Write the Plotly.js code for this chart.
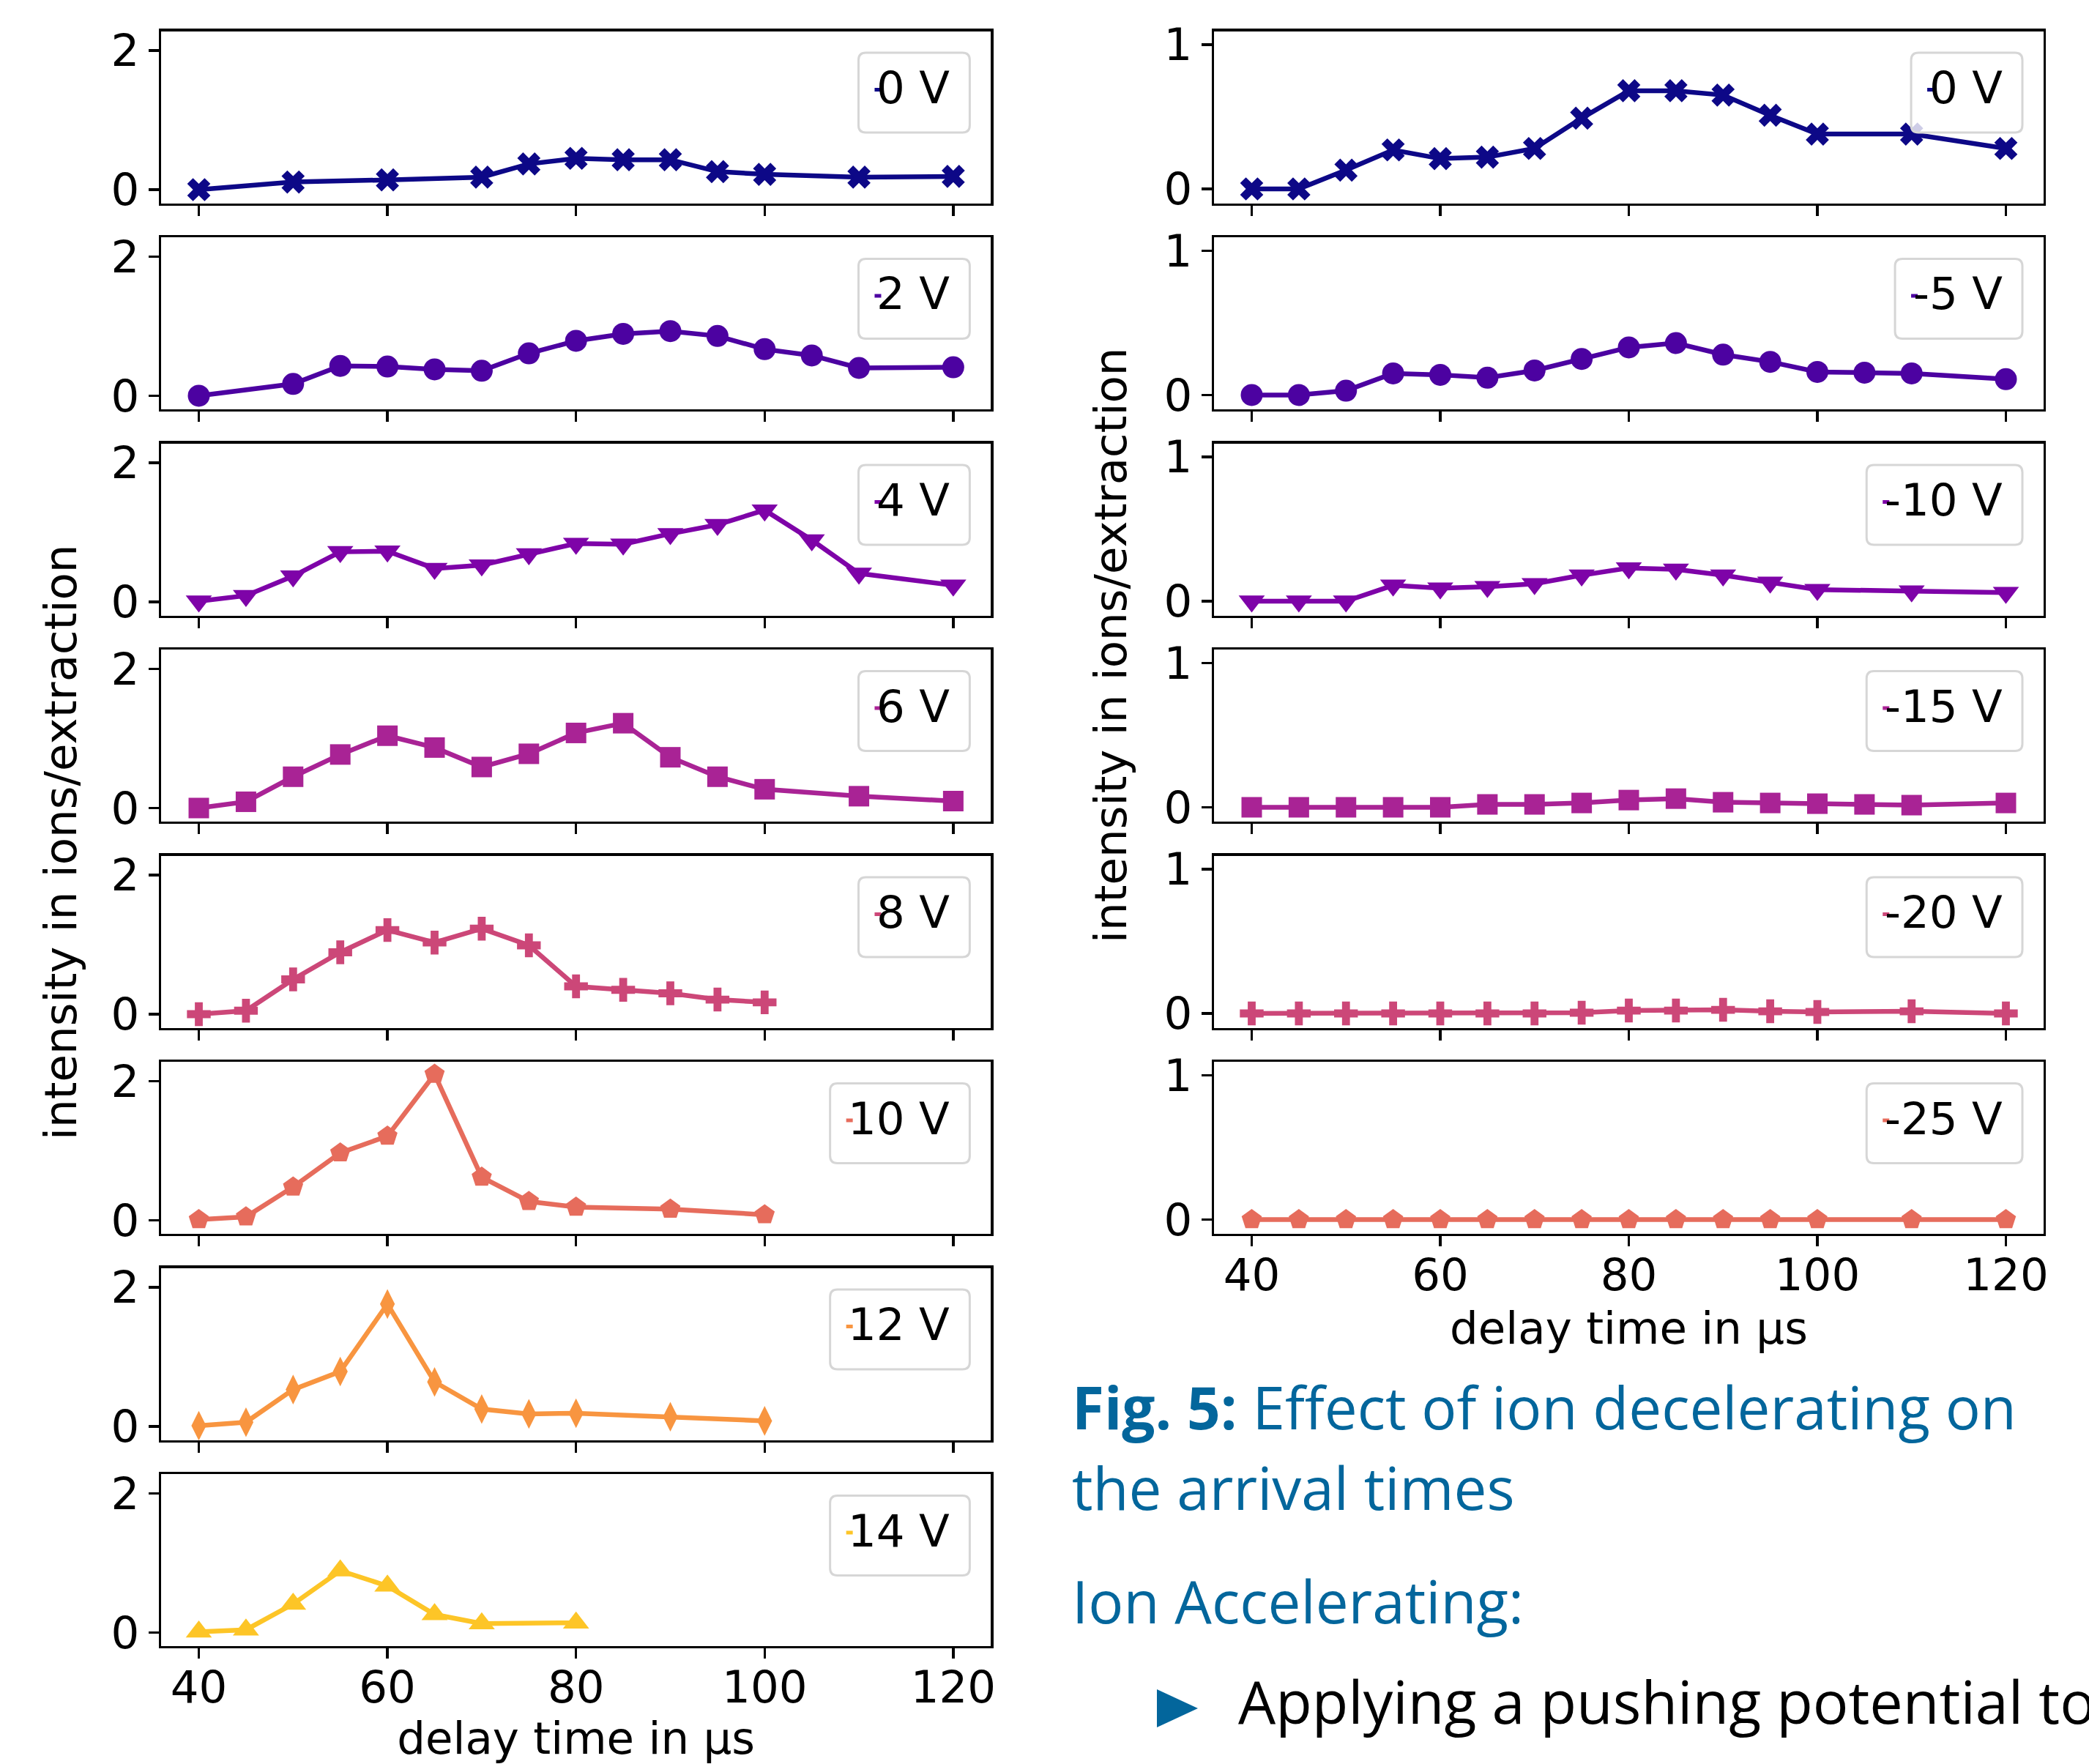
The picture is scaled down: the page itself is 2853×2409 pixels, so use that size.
<!DOCTYPE html>
<html>
<head>
<meta charset="utf-8">
<script src="https://cdn.plot.ly/plotly-3.0.1.min.js"></script>
<style>html,body{margin:0;padding:0;background:#fff;}</style>
</head>
<body>
<div id="chart" style="width:2853px;height:2409px;"></div>
<script>
// ---------------- DATA ----------------
// delay time in µs (x) and intensity in ions/extraction (y)
// Left column: ion accelerating potentials
const accLabels = ["0 V", "2 V", "4 V", "6 V", "8 V", "10 V", "12 V", "14 V"];
const accX0  = [40, 50, 60, 70, 75, 80, 85, 90, 95, 100, 110, 120];
const accY0  = [0, 0.11, 0.14, 0.18, 0.37, 0.45, 0.43, 0.43, 0.26, 0.22, 0.18, 0.19];
const accX2  = [40, 50, 55, 60, 65, 70, 75, 80, 85, 90, 95, 100, 105, 110, 120];
const accY2  = [0, 0.17, 0.43, 0.42, 0.38, 0.36, 0.61, 0.79, 0.89, 0.93, 0.86, 0.67, 0.58, 0.40, 0.41];
const accX4  = [40, 45, 50, 55, 60, 65, 70, 75, 80, 85, 90, 95, 100, 105, 110, 120];
const accY4  = [0.01, 0.09, 0.37, 0.72, 0.73, 0.48, 0.53, 0.69, 0.84, 0.83, 0.98, 1.11, 1.32, 0.89, 0.41, 0.24];
const accX6  = [40, 45, 50, 55, 60, 65, 70, 75, 80, 85, 90, 95, 100, 110, 120];
const accY6  = [0, 0.09, 0.45, 0.77, 1.04, 0.87, 0.59, 0.78, 1.08, 1.22, 0.73, 0.45, 0.27, 0.17, 0.10];
const accX8  = [40, 45, 50, 55, 60, 65, 70, 75, 80, 85, 90, 95, 100];
const accY8  = [0, 0.05, 0.50, 0.89, 1.21, 1.03, 1.23, 0.99, 0.40, 0.35, 0.30, 0.21, 0.17];
const accX10 = [40, 45, 50, 55, 60, 65, 70, 75, 80, 90, 100];
const accY10 = [0.01, 0.05, 0.48, 0.97, 1.21, 2.10, 0.62, 0.27, 0.19, 0.16, 0.08];
const accX12 = [40, 45, 50, 55, 60, 65, 70, 75, 80, 90, 100];
const accY12 = [0.01, 0.06, 0.53, 0.79, 1.76, 0.64, 0.25, 0.18, 0.19, 0.14, 0.08];
const accX14 = [40, 45, 50, 55, 60, 65, 70, 80];
const accY14 = [0.01, 0.04, 0.41, 0.89, 0.67, 0.26, 0.13, 0.14];

// Right column: ion decelerating potentials
const decLabels = ["0 V", "-5 V", "-10 V", "-15 V", "-20 V", "-25 V"];
const decX0   = [40, 45, 50, 55, 60, 65, 70, 75, 80, 85, 90, 95, 100, 110, 120];
const decY0   = [0, 0, 0.13, 0.27, 0.21, 0.22, 0.28, 0.49, 0.68, 0.68, 0.65, 0.51, 0.38, 0.38, 0.28];
const decX5   = [40, 45, 50, 55, 60, 65, 70, 75, 80, 85, 90, 95, 100, 105, 110, 120];
const decY5   = [0, 0, 0.03, 0.15, 0.14, 0.12, 0.17, 0.25, 0.33, 0.36, 0.28, 0.23, 0.16, 0.155, 0.15, 0.11];
const decX10  = [40, 45, 50, 55, 60, 65, 70, 75, 80, 85, 90, 95, 100, 110, 120];
const decY10  = [0, 0, 0, 0.11, 0.09, 0.10, 0.12, 0.18, 0.23, 0.22, 0.18, 0.13, 0.08, 0.07, 0.06];
const decX15  = [40, 45, 50, 55, 60, 65, 70, 75, 80, 85, 90, 95, 100, 105, 110, 120];
const decY15  = [0, 0, 0, 0, 0, 0.02, 0.02, 0.03, 0.05, 0.06, 0.035, 0.03, 0.025, 0.02, 0.015, 0.03];
const decX20  = [40, 45, 50, 55, 60, 65, 70, 75, 80, 85, 90, 95, 100, 110, 120];
const decY20  = [0, 0, 0, 0, 0, 0, 0, 0.005, 0.02, 0.02, 0.025, 0.015, 0.01, 0.015, 0];
const decX25  = [40, 45, 50, 55, 60, 65, 70, 75, 80, 85, 90, 95, 100, 110, 120];
const decY25  = [0, 0, 0, 0, 0, 0, 0, 0, 0, 0, 0, 0, 0, 0, 0];

const xTickVals = [40, 60, 80, 100, 120];
const accYTicks = [0, 2];
const decYTicks = [0, 1];

const xTitle = "delay time in µs";
const yTitle = "intensity in ions/extraction";
const captionBold = "Fig. 5:";
const captionRest1 = " Effect of ion decelerating on";
const captionLine2 = "the arrival times";
const sectionHead = "Ion Accelerating:";
const bulletText = "Applying a pushing potential to";

// ---------------- STYLE ----------------
const W_PX = 2853, H_PX = 2409;
const PX = v => v / W_PX, PY = v => 1 - v / H_PX;
const FONT = "DejaVu Sans";
const FS = 61;
const colors = ["#0d0887", "#4c02a1", "#7e03a8", "#a92395", "#cc4778", "#e66c5c", "#f89540", "#fdc527"];
const symbols = ["x", "circle", "triangle-down", "square", "cross", "pentagon", "diamond-tall", "triangle-up"];
const msizes = [28, 30, 31, 28, 27, 29, 29, 31];
const BLUE = "#03669c";

const accSeries = [[accX0, accY0], [accX2, accY2], [accX4, accY4], [accX6, accY6],
                   [accX8, accY8], [accX10, accY10], [accX12, accY12], [accX14, accY14]];
const decSeries = [[decX0, decY0], [decX5, decY5], [decX10, decY10],
                   [decX15, decY15], [decX20, decY20], [decX25, decY25]];

const charW = {"0":0.6362,"1":0.6362,"2":0.6362,"3":0.6362,"4":0.6362,"5":0.6362,"6":0.6362,"7":0.6362,"8":0.6362,"9":0.6362," ":0.3179,"V":0.6841,"-":0.3608};
function textWidth(s) { let w = 0; for (const c of s) w += (charW[c] || 0.6); return w * FS; }

const PANEL_TOP0 = 42.5, PANEL_STEP = 281.5, PANEL_H = 235;
const LEFT_X = [220, 1353.4], RIGHT_X = [1658, 2791];

const data = [];
const layout = {
  width: W_PX, height: H_PX,
  margin: {l: 0, r: 0, t: 0, b: 0, pad: 0},
  paper_bgcolor: "#ffffff", plot_bgcolor: "#ffffff",
  showlegend: false,
  font: {family: FONT, size: FS, color: "#000000"},
  shapes: [], annotations: []
};

function axisCommon() {
  return {
    showline: true, linecolor: "#000000", linewidth: 3.4, mirror: true,
    ticks: "outside", ticklen: 14, tickwidth: 3.4, tickcolor: "#000000",
    showgrid: false, zeroline: false, fixedrange: true,
    tickfont: {family: FONT, size: FS, color: "#000000"}
  };
}

function addPanel(k, row, xdom, series, label, colorIdx, yrange, yticks, isBottom) {
  const top = PANEL_TOP0 + PANEL_STEP * row;
  const xk = k === 1 ? "xaxis" : "xaxis" + k;
  const yk = k === 1 ? "yaxis" : "yaxis" + k;
  const xr = k === 1 ? "x" : "x" + k;
  const yr = k === 1 ? "y" : "y" + k;
  const xa = Object.assign(axisCommon(), {
    domain: [PX(xdom[0]), PX(xdom[1])], anchor: yr, range: [36, 124],
    tickmode: "array", tickvals: xTickVals, ticktext: xTickVals.map(String),
    showticklabels: isBottom, ticklabelstandoff: -14
  });
  if (isBottom) {
    xa.title = {text: xTitle, font: {family: FONT, size: FS, color: "#000000"}, standoff: 18};
  }
  const ya = Object.assign(axisCommon(), {
    domain: [PY(top + PANEL_H), PY(top)], anchor: xr, range: yrange,
    tickmode: "array", tickvals: yticks, ticktext: yticks.map(String)
  });
  layout[xk] = xa; layout[yk] = ya;

  data.push({
    type: "scatter", mode: "lines+markers", x: series[0], y: series[1],
    xaxis: xr, yaxis: yr, name: label, cliponaxis: false,
    line: {color: colors[colorIdx], width: 6.5},
    marker: {symbol: symbols[colorIdx], size: msizes[colorIdx], color: colors[colorIdx], line: {width: 0}}
  });

  // legend box (rounded) + tiny handle + label
  const dxr = xr + " domain", dyr = yr + " domain";
  const tw = textWidth(label);
  const bw = tw + 52;
  const x1 = -29, x0 = x1 - bw, yt = -29.5, yb = -138.5, r = 10;
  const path = `M${x0 + r},${yt} L${x1 - r},${yt} Q${x1},${yt} ${x1},${yt - r} L${x1},${yb + r} Q${x1},${yb} ${x1 - r},${yb} ` +
               `L${x0 + r},${yb} Q${x0},${yb} ${x0},${yb + r} L${x0},${yt - r} Q${x0},${yt} ${x0 + r},${yt} Z`;
  layout.shapes.push({type: "path", xref: dxr, yref: dyr, xsizemode: "pixel", ysizemode: "pixel",
    xanchor: 1, yanchor: 1, path: path, fillcolor: "rgba(255,255,255,0.8)",
    line: {color: "#d6d6d6", width: 3}, layer: "above"});
  const ts = x1 - 26 - tw;
  layout.shapes.push({type: "line", xref: dxr, yref: dyr, xsizemode: "pixel", ysizemode: "pixel",
    xanchor: 1, yanchor: 1, x0: ts - 4, x1: ts + 5, y0: -80, y1: -80,
    line: {color: colors[colorIdx], width: 5}, layer: "above"});
  layout.annotations.push({xref: dxr, yref: dyr, x: 1, y: 1, xanchor: "right", yanchor: "middle",
    xshift: x1 - 26, yshift: -77, borderpad: 0, showarrow: false, text: label,
    font: {family: FONT, size: FS, color: "#000000"}});
}

accSeries.forEach((s, i) => addPanel(i + 1, i, LEFT_X, s, accLabels[i], i, [-0.195, 2.28], accYTicks, i === accSeries.length - 1));
decSeries.forEach((s, i) => addPanel(9 + i, i, RIGHT_X, s, decLabels[i], i, [-0.099, 1.093], decYTicks, i === decSeries.length - 1));

// shared y-axis titles
layout.annotations.push({xref: "paper", yref: "paper", x: PX(82), y: PY(1151), xanchor: "center", yanchor: "middle",
  textangle: -90, showarrow: false, text: yTitle, font: {family: FONT, size: FS, color: "#000000"}});
layout.annotations.push({xref: "paper", yref: "paper", x: PX(1516), y: PY(881), xanchor: "center", yanchor: "middle",
  textangle: -90, showarrow: false, text: yTitle, font: {family: FONT, size: FS, color: "#000000"}});

// caption text (poster)
const CAP = "Open Sans";
function textLine(x, baseline, size, text, color) {
  layout.annotations.push({xref: "paper", yref: "paper", x: PX(x), y: PY(baseline + 0.293 * size), xanchor: "left", yanchor: "bottom",
    borderpad: 0, showarrow: false, text: text, font: {family: CAP, size: size, color: color}});
}
textLine(1463, 1953, 80, "<b>" + captionBold + "</b>" + captionRest1, BLUE);
textLine(1463, 2063, 80, captionLine2, BLUE);
textLine(1463, 2218, 80, sectionHead, BLUE);
textLine(1690, 2355, 81, bulletText, "#000000");
// bullet triangle
layout.shapes.push({type: "path", xref: "paper", yref: "paper",
  path: `M${PX(1580)},${PY(2307)} L${PX(1636)},${PY(2333)} L${PX(1580)},${PY(2359)} Z`,
  fillcolor: BLUE, line: {width: 0}});

Plotly.newPlot("chart", data, layout, {staticPlot: true, displayModeBar: false});
</script>
</body>
</html>
